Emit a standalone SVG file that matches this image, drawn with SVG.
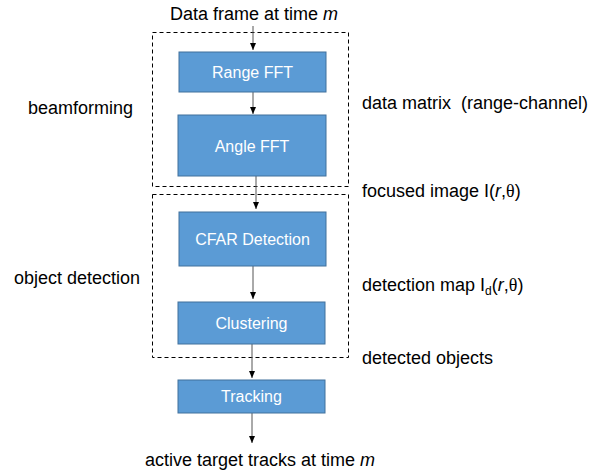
<svg xmlns="http://www.w3.org/2000/svg" width="605" height="472" viewBox="0 0 605 472">
<defs>
<marker id="ah" markerWidth="8" markerHeight="8" refX="7" refY="4" orient="auto" markerUnits="userSpaceOnUse">
<path d="M0,1 L7,4 L0,7 Z" fill="#000"/>
</marker>
<style>
text{font-family:"Liberation Sans",Arial,sans-serif;font-size:18px;fill:#000}
.bt{fill:#fff;text-anchor:middle;font-size:16px}
.box{fill:#5B9BD5;stroke:#41719C;stroke-width:1}
.grp{fill:none;stroke:#000;stroke-width:1;stroke-dasharray:4,3}
.c{stroke:#555;stroke-width:1;fill:none;marker-end:url(#ah)}
.th{font-family:"Liberation Serif","Times New Roman",serif}
</style>
</defs>
<g id="groups">
<rect class="grp" x="152.5" y="32.5" width="196" height="154"/>
<rect class="grp" x="152.5" y="194.5" width="196" height="163"/>
</g>
<g id="connectors">
<line class="c" x1="253" y1="26" x2="253" y2="50"/>
<line class="c" x1="253" y1="92" x2="253" y2="114"/>
<line class="c" x1="256" y1="176" x2="256" y2="209"/>
<line class="c" x1="253" y1="266" x2="253" y2="299"/>
<line class="c" x1="252" y1="344" x2="252" y2="378"/>
<line class="c" x1="252" y1="413" x2="252" y2="443"/>
</g>
<g id="range-fft"><rect class="box" x="179" y="52" width="147" height="40"/><text class="bt" x="252.5" y="78">Range FFT</text></g>
<g id="angle-fft"><rect class="box" x="178" y="115" width="148" height="61"/><text class="bt" x="252" y="152">Angle FFT</text></g>
<g id="cfar"><rect class="box" x="179" y="212" width="147" height="54"/><text class="bt" x="252.5" y="245">CFAR Detection</text></g>
<g id="clustering"><rect class="box" x="178" y="302" width="147" height="42"/><text class="bt" x="251.5" y="329">Clustering</text></g>
<g id="tracking"><rect class="box" x="178" y="380" width="147" height="33"/><text class="bt" x="251.5" y="402">Tracking</text></g>
<g id="labels">
<text x="254" y="20" text-anchor="middle">Data frame at time <tspan font-style="italic">m</tspan></text>
<text x="28" y="114">beamforming</text>
<text x="14" y="284">object detection</text>
<text x="362" y="109" xml:space="preserve">data matrix  (range-channel)</text>
<text x="362" y="197">focused image I(<tspan font-style="italic">r</tspan>,<tspan class="th">θ</tspan>)</text>
<text x="362" y="291">detection map I<tspan font-size="12" dy="4">d</tspan><tspan dy="-4">(</tspan><tspan font-style="italic">r</tspan>,<tspan class="th">θ</tspan>)</text>
<text x="362" y="364">detected objects</text>
<text x="260" y="466" text-anchor="middle">active target tracks at time <tspan font-style="italic">m</tspan></text>
</g>
</svg>
